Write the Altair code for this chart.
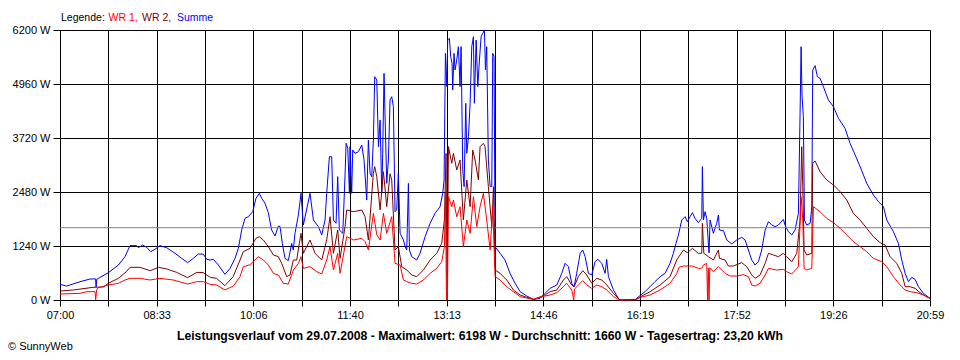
import json
import altair as alt
import pandas as pd

# ---- data (minutes after 07:00, watts) ----
t_summe = [0, 6.4, 19.3, 29, 34.3, 34.8, 35.5, 37, 46.6, 56.3, 62.7, 67.5, 74, 75.5, 79.7, 83.6, 87.4, 91.6, 96.4, 102.9,
           110.9, 117.3, 123.1, 128.6, 133.4, 138.2, 141.5, 144.7, 147.9, 152.7, 159.1, 164, 168.8, 172, 175.2, 178.4,
           181.6, 185.8, 189, 192.2, 194.5, 197.7, 200.9, 204.1, 207.4, 210.6, 212.2, 214.4, 217, 220.2, 223.4, 225,
           226.6, 229.9, 232.4, 234.7, 241.1, 244.4, 249.2, 252.4, 255.6, 257.2, 259.8, 262, 263.7, 266.2, 267.8, 269.4,
           272.7, 274.9, 275.9, 277.5, 279.1, 279.7, 281.3, 282.3, 284.5, 287.8, 291, 293.2, 295.8, 297.4, 299, 300.6,
           302.2, 303.5, 305.5, 307.1, 308.7, 310.3, 311.2, 312.5, 313.8, 315.1, 316.7, 318.3, 319.9, 321.5, 323.1,
           324.7, 326.3, 328, 331.2, 332.8, 334.4, 336, 337, 339.2, 344, 347.2, 352.1, 356.9, 361.7, 366.5, 369.1,
           370.4, 371.7, 373, 373.9, 375.5, 376.8, 378.1, 378.7, 380, 381, 382.6, 384.2, 385.8, 386.8, 388.4, 389.7,
           391.3, 392.3, 393.9, 395.5, 397.1, 398.7, 399.6, 401.3, 402.9, 404.5, 406.1, 407.7, 409.3, 410.3, 411.5,
           413.1, 414.8, 416.4, 417.3, 418.6, 419.6, 424.4, 429.2, 434, 438.9, 443.7, 450.1, 456.6, 463, 467.8, 472.6,
           479.1, 483.9, 487.1, 490.3, 493.5, 495.8, 498.3, 501.6, 504.1, 506.4, 509.6, 512.8, 516, 518.6, 522.5,
           525.7, 527.2, 528.9, 533.7, 538.5, 540.1, 548, 555, 560, 564.2, 569, 573.8, 578.7, 583.5, 588.3, 591.5,
           594.1, 596.4, 599.6, 602.8, 605, 607.6, 609.9, 612.4, 615.6, 618.9, 619.5, 620.5, 622.1, 623.7, 625.9,
           626.9, 630.1, 633.3, 635, 635.9, 639.8, 643, 647.8, 652.6, 657.4, 660.7, 663.9, 667.1, 670.3, 673.5, 676.7,
           680, 683.2, 686.4, 689.6, 692.8, 697.6, 699.2, 702.4, 705.7, 708.9, 712.1, 713.7, 714.7, 715.6, 716.9,
           717.9, 720.1, 723.4, 725, 725.9, 728.2, 730.4, 733, 736.2, 741, 745.9, 750.7, 757.1, 761.9, 766.8, 771.6,
           778, 784.4, 789.3, 794.1, 797.3, 803.7, 808.5, 811.8, 815, 818.2, 821.4, 824.6, 827.8, 832.7, 839]
summe = [360, 320, 420, 482, 485, 300, 480, 497, 627, 803, 995, 1248, 1248, 1201, 1263, 1209, 1110, 1164, 1248, 1201,
         1072, 957, 857, 957, 1056, 1053, 934, 918, 934, 803, 589, 727, 957, 1186, 1607, 1876,
         1913, 2028, 2335, 2450, 2335, 2220, 2005, 1607, 1470, 1699, 1690, 1301, 957, 903, 1301, 1148,
         1531, 1952, 2450, 1722, 2449, 1837, 1684, 1493, 1837, 2449, 3291, 3291, 1837, 1761, 2832, 1607,
         1531, 2870, 3597, 3483, 2449, 3521, 2449, 3444, 3368, 3406, 3559, 3215, 2296, 3674, 2909, 2832,
         3674, 5128, 5052, 3521, 4133, 2449, 3368, 5205, 3904, 2679, 3215, 4593, 4669, 4439, 2028,
         2067, 2909, 1531, 1378, 1225, 1148, 2679, 1148, 995, 918, 1072, 1454, 1761, 1990, 2143, 2449,
         2756, 5664, 4899, 5970, 6009, 5588, 5435, 4822, 5664, 5281, 5511, 5817, 4899, 5817, 2985, 2602,
         4516, 3368, 3751, 4516, 5817, 6046, 4516, 5970, 4899, 5511, 6046, 6124, 6198, 5281, 5817,
         3215, 2602, 2602, 5664, 5588, 1225, 1072, 918, 612, 383, 191, 92, 15, 38, 153, 268,
         344, 612, 842, 765, 383, 306, 612, 1072, 1148, 995, 612, 574, 880, 934, 842,
         612, 934, 536, 230, 38, 0, 10, 15, 115, 191, 306, 421, 536, 612, 842, 1072,
         1301, 1493, 1837, 1913, 1799, 1913, 2005, 1875, 1776, 1875, 3062, 1837, 2028, 1875, 1079,
         1837, 1531, 1761, 1952, 1607, 1592, 1378, 1286, 1378, 1439, 1378, 1148, 918, 803, 880, 1148,
         1607, 1799, 1722, 1684, 1722, 1852, 1722, 1569, 1493, 1607, 1990, 4286, 5817, 4669, 4210,
         1837, 1722, 1761, 2143, 5281, 5381, 5128, 5090, 4899, 4593, 4439, 4172, 3942, 3597, 3330, 3062,
         2679, 2411, 2258, 2143, 1837, 1569, 1301, 918, 612, 421, 520, 474, 306, 153, 38]

t_wr2 = [0, 13, 32, 42, 46.6, 56.3, 64, 67.5, 77, 87, 95, 103, 112.5, 123, 132, 138, 145, 151, 159, 167, 173.6,
         176.8, 183.2, 189, 192.2, 196.1, 200.9, 205.8, 210.6, 213.8, 218.6, 221.8, 225, 228.3, 230.8, 232.4, 234.7,
         241.1, 246, 252.4, 257.2, 260.4, 263.7, 267.8, 270.1, 274.9, 276.5, 282.9, 291, 294.2, 297.4, 302.2, 303.5,
         305.5, 308.7, 311.9, 315.1, 318.3, 319.9, 323.1, 326.3, 329.6, 334.4, 339.2, 344, 350.5, 356.9, 363.3,
         368.1, 370.7, 372.3, 373.3, 374.6, 377.8, 379.4, 382.6, 385.8, 389, 392.3, 395.5, 398, 400.3, 403.5, 405.1,
         408.3, 409.9, 413.1, 416.4, 418, 419.6, 424.4, 430.8, 437.3, 443.7, 450.1, 456.6, 467.8, 472.6, 479.1,
         485.5, 488.7, 493.5, 495.8, 499.9, 504.1, 508, 512.8, 517.6, 522.5, 527.3, 533.7, 538.5, 540.1, 555, 560,
         569, 578.7, 588.3, 594.7, 601.2, 605, 609.9, 615.6, 618.9, 619.5, 620.9, 625.3, 630.1, 635, 635.9, 641.4,
         644.6, 649.4, 657.4, 662.3, 667.1, 670.3, 675.1, 680, 683.2, 688, 692.8, 697.6, 700.8, 705.7, 710.5, 713.7,
         715.3, 716.3, 717.6, 720.1, 725, 725.9, 728.2, 733, 739.4, 745.9, 752.3, 758.7, 765.1, 771.6, 778, 784.4,
         790.9, 795.7, 800.5, 806.9, 811.8, 815, 819.8, 824.6, 829.4, 834.3, 839]
wr2 = [207, 230, 291, 300, 383, 497, 650, 750, 750, 673, 750, 712, 635, 513, 635, 630, 520, 497, 329, 536, 918,
       1110, 1186, 1416, 1454, 1378, 1225, 1033, 995, 842, 536, 574, 918, 918, 1301, 1531, 1072,
       1378, 1072, 918, 1378, 1913, 1072, 1607, 957, 1684, 2067, 2028, 2067, 1913, 1378, 2909, 3062,
       2832, 2067, 2947, 2143, 2900, 2756, 1148, 1225, 765, 689, 574, 536, 689, 918, 1072,
       1301, 1837, 3368, 0, 3521, 3139, 3368, 2985, 3215, 1837, 2756, 2143, 3444, 3215, 2756, 3521,
       3597, 3521, 2602, 1684, 2602, 689, 612, 459, 230, 115, 61, 15, 115, 191, 230,
       459, 536, 344, 306, 536, 673, 574, 383, 497, 459, 344, 153, 38, 0, 10, 77,
       191, 344, 536, 918, 1148, 1087, 1186, 1072, 1072, 1761, 1072, 995, 918, 1148, 957, 918,
       781, 781, 857, 765, 574, 497, 574, 842, 1072, 1033, 995, 1072, 995, 880, 1072, 1837,
       3521, 2602, 1148, 1033, 1072, 3138, 3192, 2947, 2756, 2641, 2488, 2296, 1990, 1837, 1646, 1454,
       1317, 1263, 995, 842, 612, 306, 306, 268, 168, 92, 38]

t_wr1 = [0, 19.3, 26, 33.8, 34.4, 35.4, 37, 46.6, 56.3, 62.7, 67.5, 77.2, 86.8, 96.4, 109.3, 123.1, 131.8, 138.2,
         144.7, 151.1, 159.1, 167.2, 173.6, 176.8, 183.2, 191.3, 196.1, 200.9, 205.8, 210.6, 215.4, 220.2, 225,
         229.9, 232.4, 234.7, 241.1, 247.6, 252.4, 257.2, 260.4, 263.7, 267.8, 270.1, 276.5, 282.9, 291, 294.2,
         297.4, 302.2, 305.5, 308.7, 311.9, 315.1, 319.9, 323.1, 328, 331.2, 334.4, 339.2, 344, 350.5, 356.9,
         363.3, 368.1, 370.7, 371.7, 372.7, 373.6, 374.6, 377.8, 379.4, 382.6, 385.8, 389, 392.3, 395.5, 398.7,
         401.9, 405.1, 408.3, 411.5, 414.8, 417.3, 419.6, 424.4, 430.8, 437.3, 443.7, 456.6, 467.8, 472.6, 479.1,
         485.5, 488.7, 493.5, 495.5, 496.2, 498.3, 504.1, 508, 512.8, 517.6, 522.5, 527.3, 533.7, 538.5, 540.1,
         555, 560, 569, 578.7, 588.3, 594.7, 597, 601.2, 609.3, 615.6, 618.9, 620.5, 623.7, 624.5, 625.2, 625.9,
         626.6, 630.1, 635, 641.4, 646.2, 652.6, 659, 663.9, 667.1, 670.3, 675.1, 680, 683.2, 691.2, 697.6, 700.8,
         705.7, 712.1, 714.7, 716.3, 717.6, 720.1, 725, 726.6, 733, 739.4, 745.9, 752.3, 758.7, 765.1, 771.6, 778,
         784.4, 792.5, 797.3, 803.7, 810.2, 815, 819.8, 826.2, 832.7, 839]
wr1 = [138, 153, 191, 191, 0, 240, 283, 344, 383, 459, 497, 497, 459, 497, 459, 367, 421, 421,
       360, 344, 230, 321, 536, 765, 810, 995, 918, 804, 612, 574, 383, 367, 689,
       842, 995, 727, 765, 651, 597, 918, 1225, 689, 1072, 612, 1454, 1378, 1416, 1340,
       1148, 1990, 1500, 1378, 1990, 1531, 1913, 842, 803, 459, 421, 383, 367, 459, 612,
       727, 880, 1225, 2449, 0, 0, 2372, 2143, 2296, 1913, 2143, 1225, 1837, 1531, 2372,
       1684, 2143, 2449, 1837, 1148, 2143, 536, 459, 306, 191, 77, 15, 92, 115, 168,
       306, 383, 230, 0, 250, 306, 444, 344, 268, 344, 306, 230, 77, 15, 0,
       5, 61, 115, 230, 383, 600, 750, 781, 781, 727, 727, 803, 842, 0, 730, 0,
       740, 650, 765, 612, 551, 551, 582, 536, 344, 321, 383, 574, 727, 689, 704, 650,
       597, 765, 2372, 1837, 727, 689, 727, 2143, 2028, 1875, 1776, 1646, 1493, 1340, 1225, 1110,
       957, 880, 765, 536, 344, 230, 191, 168, 115, 38]

x_labels = ["07:00", "08:33", "10:06", "11:40", "13:13", "14:46", "16:19", "17:52", "19:26", "20:59"]
y_ticks = [0, 1240, 2480, 3720, 4960, 6200]
average = 1660
title_text = ("Leistungsverlauf vom 29.07.2008 - Maximalwert: 6198 W - "
              "Durchschnitt: 1660 W - Tagesertrag: 23,20 kWh")
legend_names = ["WR 1,", "WR 2,", "Summe"]
legend_colors = ["#FF0000", "#800000", "#0000FF"]

SPAN = 839
FONT = "Liberation Sans"
grid_vals = [k * SPAN / 18 for k in range(19)]
label_arr = [x_labels[k // 2] if k % 2 == 0 else "" for k in range(19)]
label_expr = json.dumps(label_arr) + "[round(datum.value*18/839)]"

xscale = alt.Scale(domain=[0, SPAN], nice=False, zero=False)
yscale = alt.Scale(domain=[0, 6200], nice=False)

x_axis = alt.Axis(
    values=grid_vals, labelExpr=label_expr, title=None, grid=True, gridColor="black",
    gridOpacity=1, gridWidth=1, tickColor="black", tickSize=6, tickWidth=1, labelPadding=3,
    domain=False, labelFont=FONT, labelFontSize=11, labelColor="black", labelFlush=False,
    labelOverlap=False)
y_axis = alt.Axis(
    values=y_ticks, labelExpr="datum.value + ' W'", title=None, grid=True, gridColor="black",
    gridOpacity=1, gridWidth=1, tickColor="black", tickSize=7, tickWidth=1, labelPadding=3,
    domain=False, labelFont=FONT, labelFontSize=11, labelColor="black", labelFlush=False,
    labelOverlap=False)

df_s = pd.DataFrame({"t": t_summe, "v": summe})
df_2 = pd.DataFrame({"t": t_wr2, "v": wr2})
df_1 = pd.DataFrame({"t": t_wr1, "v": wr1})


def series(df, color):
    return alt.Chart(df).mark_line(color=color, strokeWidth=1).encode(
        x=alt.X("t:Q", scale=xscale, axis=x_axis),
        y=alt.Y("v:Q", scale=yscale, axis=y_axis),
    )


line_s = series(df_s, "#0000FF")
line2 = series(df_2, "#800000")
line1 = series(df_1, "#FF0000")

avg_rule = alt.Chart(pd.DataFrame({"v": [average]})).mark_rule(color="#808080", strokeWidth=1).encode(
    y=alt.Y("v:Q", scale=yscale, axis=y_axis))

one = pd.DataFrame({"a": [0]})


def label(text, x, y, color="black", weight="normal", align="left", size=11):
    return alt.Chart(one).mark_text(
        text=text, font=FONT, fontSize=size, fontWeight=weight, color=color,
        align=align, baseline="alphabetic").encode(x=alt.value(x), y=alt.value(y))


texts = [
    label("Legende:", 1, -9, size=10.5),
    label(legend_names[0], 48.5, -9, legend_colors[0], size=10.5),
    label(legend_names[1], 82, -9, legend_colors[1], size=10.5),
    label(legend_names[2], 117, -9, legend_colors[2], size=10.5),
    label(title_text, 420, 310, weight="bold", align="center", size=12.2),
    label("© SunnyWeb", -52, 320),
]

chart = alt.layer(line_s, avg_rule, line2, line1, *texts).properties(
    width=870, height=270,
    autosize=alt.AutoSizeParams(type="none"),
    padding={"left": 52, "top": 22, "right": 22, "bottom": 52},
).configure_view(stroke=None).configure(background="white")

chart.save("out.html", embed_options={"renderer": "svg", "actions": False})
